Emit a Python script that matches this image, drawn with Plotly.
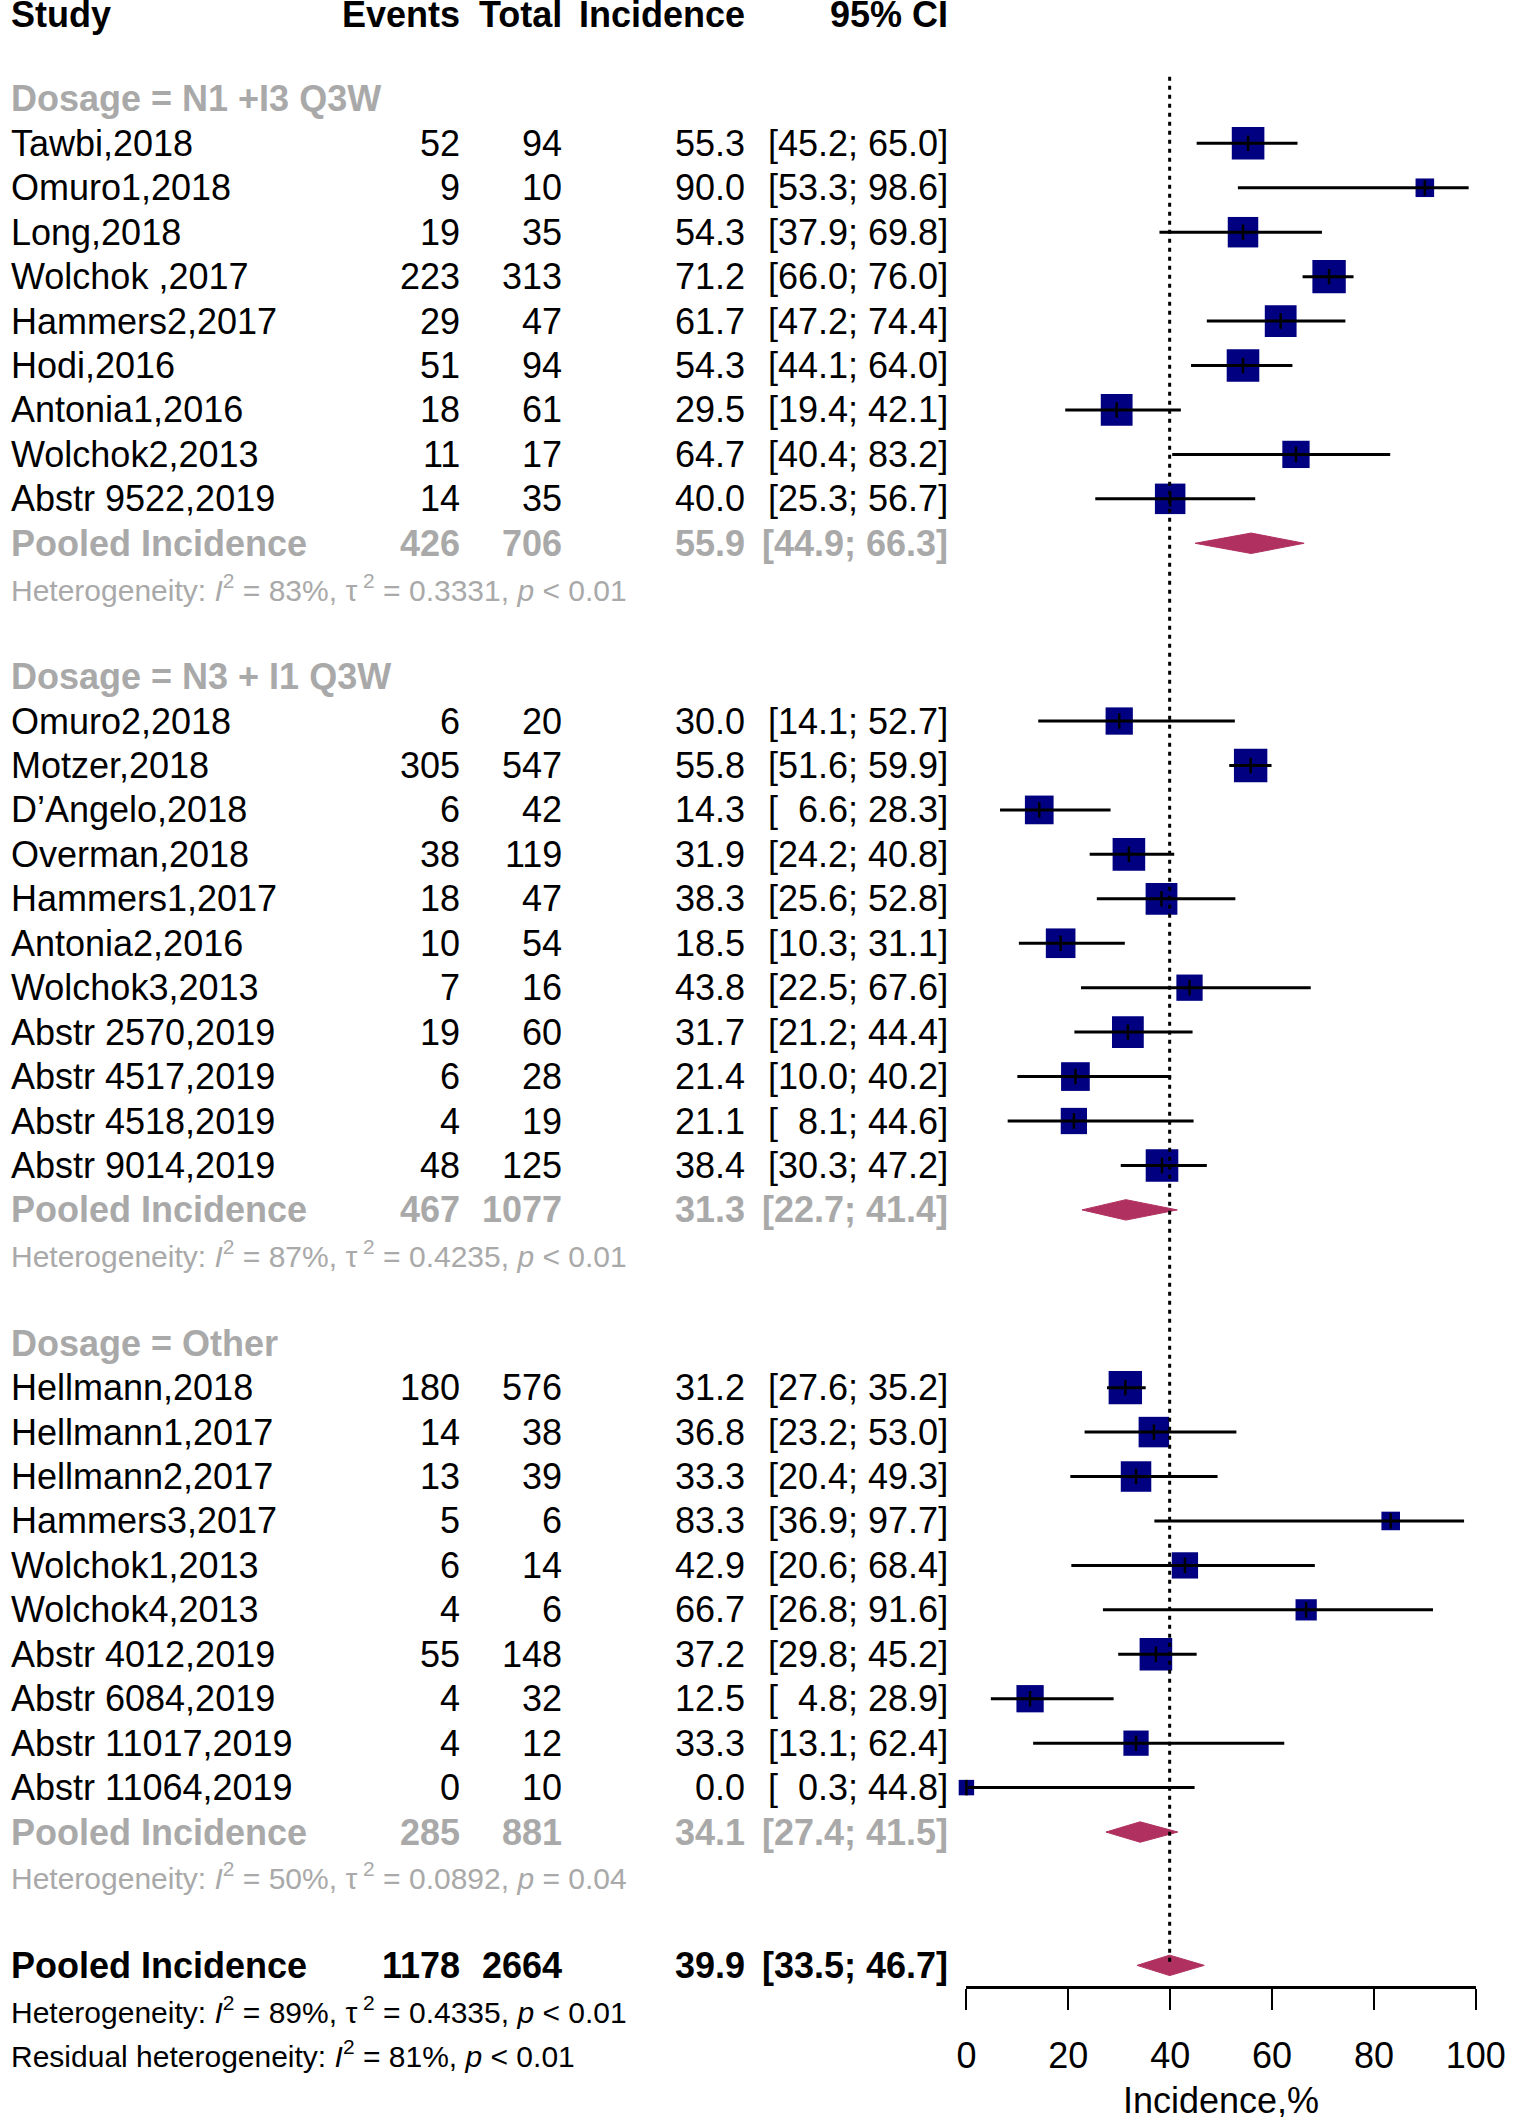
import plotly.graph_objects as go

# ---- data ----
group_labels = ['Dosage = N1 +I3 Q3W', 'Dosage = N3 + I1 Q3W', 'Dosage = Other']

study = ['Tawbi,2018', 'Omuro1,2018', 'Long,2018', 'Wolchok ,2017', 'Hammers2,2017',
         'Hodi,2016', 'Antonia1,2016', 'Wolchok2,2013', 'Abstr 9522,2019',
         'Omuro2,2018', 'Motzer,2018', 'D’Angelo,2018', 'Overman,2018', 'Hammers1,2017',
         'Antonia2,2016', 'Wolchok3,2013', 'Abstr 2570,2019', 'Abstr 4517,2019',
         'Abstr 4518,2019', 'Abstr 9014,2019',
         'Hellmann,2018', 'Hellmann1,2017', 'Hellmann2,2017', 'Hammers3,2017',
         'Wolchok1,2013', 'Wolchok4,2013', 'Abstr 4012,2019', 'Abstr 6084,2019',
         'Abstr 11017,2019', 'Abstr 11064,2019']
group = [0]*9 + [1]*11 + [2]*10
events = [52, 9, 19, 223, 29, 51, 18, 11, 14,
          6, 305, 6, 38, 18, 10, 7, 19, 6, 4, 48,
          180, 14, 13, 5, 6, 4, 55, 4, 4, 0]
total = [94, 10, 35, 313, 47, 94, 61, 17, 35,
         20, 547, 42, 119, 47, 54, 16, 60, 28, 19, 125,
         576, 38, 39, 6, 14, 6, 148, 32, 12, 10]
incid = [55.3, 90.0, 54.3, 71.2, 61.7, 54.3, 29.5, 64.7, 40.0,
         30.0, 55.8, 14.3, 31.9, 38.3, 18.5, 43.8, 31.7, 21.4, 21.1, 38.4,
         31.2, 36.8, 33.3, 83.3, 42.9, 66.7, 37.2, 12.5, 33.3, 0.0]
ci_lo = [45.2, 53.3, 37.9, 66.0, 47.2, 44.1, 19.4, 40.4, 25.3,
         14.1, 51.6, 6.6, 24.2, 25.6, 10.3, 22.5, 21.2, 10.0, 8.1, 30.3,
         27.6, 23.2, 20.4, 36.9, 20.6, 26.8, 29.8, 4.8, 13.1, 0.3]
ci_hi = [65.0, 98.6, 69.8, 76.0, 74.4, 64.0, 42.1, 83.2, 56.7,
         52.7, 59.9, 28.3, 40.8, 52.8, 31.1, 67.6, 44.4, 40.2, 44.6, 47.2,
         35.2, 53.0, 49.3, 97.7, 68.4, 91.6, 45.2, 28.9, 62.4, 44.8]
# approximate random-effects weights (%), judged from square sizes
weight = [4.0, 1.3, 3.5, 4.2, 3.8, 4.0, 3.8, 2.8, 3.5,
          2.8, 4.2, 3.1, 4.0, 3.8, 3.3, 2.6, 3.8, 3.1, 2.6, 4.0,
          4.2, 3.5, 3.5, 1.3, 2.6, 1.7, 4.0, 2.8, 2.4, 0.9]

pool_events = [426, 467, 285]
pool_total = [706, 1077, 881]
pool_inc = [55.9, 31.3, 34.1]
pool_lo = [44.9, 22.7, 27.4]
pool_hi = [66.3, 41.4, 41.5]
het_i2 = [83, 87, 50]
het_tau2 = ['0.3331', '0.4235', '0.0892']
het_p = ['&lt; 0.01', '&lt; 0.01', '= 0.04']

all_events, all_total = 1178, 2664
all_inc, all_lo, all_hi = 39.9, 33.5, 46.7
all_i2, all_tau2, all_p = 89, '0.4335', '&lt; 0.01'
resid_i2, resid_p = 81, '&lt; 0.01'

tick_vals = [0, 20, 40, 60, 80, 100]
x_title = 'Incidence,%'

# ---- layout constants ----
W, H = 1535, 2117
ROW0, ROWH = 10, 44.44
FONT = 'Liberation Sans, Arial, sans-serif'
GREY = '#A9A9A9'
NAVY = '#000080'
MAROON = '#B03060'
X_ST, X_EV, X_TOT, X_INC, X_CI = 1, 462, 567, 755, 963
AX_L, AX_R = 982, 1505


def fmt_ci(lo, hi):
    s = '[%4.1f; %4.1f]' % (lo, hi)
    return s.replace(' ', '\u2007').replace(';\u2007', '; ')


def het_text(i2, tau2, p):
    return ('Heterogeneity: <i>I</i><sup>2</sup> = %d%%, τ<sup> 2</sup> = %s, <i>p</i> %s'
            % (i2, tau2, p))


fig = go.Figure()


def txt(xpx, row, text, anchor='left', size=36, color='black'):
    fig.add_annotation(x=xpx / W, y=row, xref='paper', yref='y', text=text,
                       xanchor=anchor, yanchor='middle', showarrow=False,
                       borderpad=0, borderwidth=0,
                       font=dict(family=FONT, size=size, color=color))


# header
hr = 0.1
txt(X_ST, hr, '<b>Study</b>')
txt(X_EV, hr, '<b>Events</b>', 'right')
txt(X_TOT, hr, '<b>Total</b>', 'right')
txt(X_INC, hr, '<b>Incidence</b>', 'right')
txt(X_CI, hr, '<b>95% CI</b>', 'right')

study_rows = []
pool_rows = []
row = 2
for g in range(3):
    idx = [i for i in range(len(study)) if group[i] == g]
    txt(X_ST, row, '<b>%s</b>' % group_labels[g], color=GREY)
    for k, i in enumerate(idx):
        r = row + 1 + k
        study_rows.append(r)
        txt(X_ST, r, study[i])
        txt(X_EV, r, str(events[i]), 'right')
        txt(X_TOT, r, str(total[i]), 'right')
        txt(X_INC, r, '%.1f' % incid[i], 'right')
        txt(X_CI, r, fmt_ci(ci_lo[i], ci_hi[i]), 'right')
    pr = row + len(idx) + 1
    pool_rows.append(pr)
    txt(X_ST, pr, '<b>Pooled Incidence</b>', color=GREY)
    txt(X_EV, pr, '<b>%d</b>' % pool_events[g], 'right', color=GREY)
    txt(X_TOT, pr, '<b>%d</b>' % pool_total[g], 'right', color=GREY)
    txt(X_INC, pr, '<b>%.1f</b>' % pool_inc[g], 'right', color=GREY)
    txt(X_CI, pr, '<b>%s</b>' % fmt_ci(pool_lo[g], pool_hi[g]), 'right', color=GREY)
    txt(X_ST, pr + 1, het_text(het_i2[g], het_tau2[g], het_p[g]), size=30, color=GREY)
    row = pr + 3

all_row = row
txt(X_ST, all_row, '<b>Pooled Incidence</b>')
txt(X_EV, all_row, '<b>%d</b>' % all_events, 'right')
txt(X_TOT, all_row, '<b>%d</b>' % all_total, 'right')
txt(X_INC, all_row, '<b>%.1f</b>' % all_inc, 'right')
txt(X_CI, all_row, '<b>%s</b>' % fmt_ci(all_lo, all_hi), 'right')
txt(X_ST, all_row + 1, het_text(all_i2, all_tau2, all_p), size=30)
txt(X_ST, all_row + 2, 'Residual heterogeneity: <i>I</i><sup>2</sup> = %d%%, <i>p</i> %s'
    % (resid_i2, resid_p), size=30)
txt((AX_L + AX_R) / 2, all_row + 3.05, x_title, 'center')

# reference line at the overall estimate
fig.add_shape(type='line', xref='x', yref='y', x0=all_inc, x1=all_inc,
              y0=1.5, y1=all_row, line=dict(color='black', width=3, dash='4px,5px'))

# squares
fig.add_trace(go.Scatter(
    x=incid, y=study_rows, mode='markers', cliponaxis=False,
    marker=dict(symbol='square', color=NAVY, opacity=1,
                size=[16.3 * w ** 0.5 for w in weight], line=dict(width=0))))

# confidence interval lines
cx, cy = [], []
for i, r in enumerate(study_rows):
    cx += [ci_lo[i], ci_hi[i], None]
    cy += [r, r, None]
fig.add_trace(go.Scatter(x=cx, y=cy, mode='lines', cliponaxis=False,
                         line=dict(color='black', width=3)))

# point estimate ticks
fig.add_trace(go.Scatter(
    x=incid, y=study_rows, mode='markers', cliponaxis=False,
    marker=dict(symbol='line-ns', size=11, opacity=1,
                line=dict(color='black', width=2.5))))

# diamonds
dh = 0.23
for lo, est, hi, r in zip(pool_lo + [all_lo], pool_inc + [all_inc],
                          pool_hi + [all_hi], pool_rows + [all_row]):
    fig.add_trace(go.Scatter(
        x=[lo, est, hi, est, lo], y=[r, r - dh, r, r + dh, r], mode='lines',
        fill='toself', fillcolor=MAROON, line=dict(color=MAROON, width=1)))

ax_pos = 1 - 1987 / H
fig.update_layout(
    width=W, height=H, showlegend=False,
    margin=dict(l=0, r=0, t=0, b=0, pad=0),
    paper_bgcolor='white', plot_bgcolor='white',
    xaxis=dict(domain=[AX_L / W, AX_R / W], range=[0, 100], anchor='free',
               position=ax_pos, showgrid=False, zeroline=False,
               showline=True, linecolor='black', linewidth=3,
               ticks='outside', ticklen=21, tickwidth=2, tickcolor='black',
               tickvals=tick_vals, ticklabelstandoff=15, ticklabeloverflow='allow',
               tickfont=dict(family=FONT, size=36, color='black')),
    yaxis=dict(domain=[0, 1], range=[(H - ROW0) / ROWH, -ROW0 / ROWH],
               visible=False, showgrid=False, zeroline=False),
)

fig.write_html('out.html', config={'displayModeBar': False},
               post_script="document.documentElement.style.overflow='hidden';"
                           "document.body.style.overflow='hidden';"
                           "document.body.style.margin='0px';")
